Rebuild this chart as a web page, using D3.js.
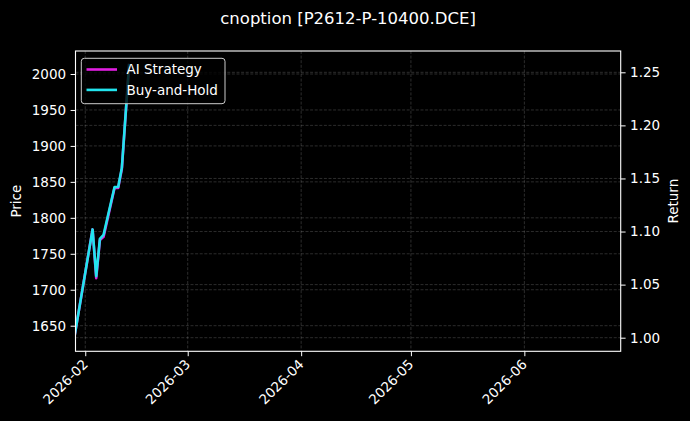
<!DOCTYPE html>
<html>
<head>
<meta charset="utf-8">
<script src="https://cdn.jsdelivr.net/npm/d3@7"></script>
<style>
  html, body { margin: 0; padding: 0; background: #000; }
  svg { display: block; font-family: "DejaVu Sans", sans-serif; }
</style>
</head>
<body>
<svg id="chart" width="690" height="421"></svg>
<script>
// values
const dates = ["2026-01-29", "2026-02-03", "2026-02-04", "2026-02-05", "2026-02-06",
               "2026-02-09", "2026-02-10", "2026-02-11", "2026-02-13"];
const aiStrategy = [1.000, 1.102, 1.056, 1.092, 1.095, 1.141, 1.141, 1.159, 1.258];
const buyHold    = [1.000, 1.102, 1.058, 1.093, 1.097, 1.142, 1.142, 1.160, 1.258];
const priceTicks = [1650, 1700, 1750, 1800, 1850, 1900, 1950, 2000];
const returnTicks = [1.00, 1.05, 1.10, 1.15, 1.20, 1.25];
const monthTicks = ["2026-02-01", "2026-03-01", "2026-04-01", "2026-05-01", "2026-06-01"];

const title = "cnoption [P2612-P-10400.DCE]";

function drawChart() {
  const svg = d3.select("#chart");
  const left = 75.5, right = 620.7, top = 51, bottom = 351.3;
  const parse = d3.utcParse("%Y-%m-%d");

  const x = d3.scaleUtc()
    .domain([new Date(Date.UTC(2026, 0, 29, 8)), new Date(Date.UTC(2026, 5, 27, 8))])
    .range([left, right]);
  const yPrice = d3.scaleLinear().domain([1650, 2000]).range([325.7, 74]);
  const yRet = d3.scaleLinear().domain([1.0, 1.25]).range([337.7, 72.3]);

  svg.append("rect").attr("width", 690).attr("height", 421).attr("fill", "#000");

  svg.append("defs").append("clipPath").attr("id", "plot-clip")
    .append("rect").attr("x", left).attr("y", top)
    .attr("width", right - left).attr("height", bottom - top);

  // grid
  const grid = svg.append("g")
    .attr("stroke", "#fff").attr("stroke-opacity", 0.22)
    .attr("stroke-width", 0.8).attr("stroke-dasharray", "3,1.6");
  monthTicks.forEach(function (d) {
    const xx = x(parse(d));
    grid.append("line").attr("x1", xx).attr("x2", xx).attr("y1", top).attr("y2", bottom);
  });
  priceTicks.forEach(function (v) {
    grid.append("line").attr("x1", left).attr("x2", right)
      .attr("y1", yPrice(v)).attr("y2", yPrice(v));
  });
  returnTicks.forEach(function (v) {
    grid.append("line").attr("x1", left).attr("x2", right)
      .attr("y1", yRet(v)).attr("y2", yRet(v));
  });

  // lines
  const line = d3.line()
    .x(function (d) { return x(d.date); })
    .y(function (d) { return yRet(d.value); });
  const series = [
    { name: "AI Strategy", color: "#e21ee2", values: aiStrategy },
    { name: "Buy-and-Hold", color: "#22e4ee", values: buyHold }
  ];
  const plot = svg.append("g").attr("clip-path", "url(#plot-clip)");
  series.forEach(function (s) {
    const pts = dates.map(function (d, i) { return { date: parse(d), value: s.values[i] }; });
    plot.append("path")
      .datum(pts)
      .attr("d", line)
      .attr("fill", "none")
      .attr("stroke", s.color)
      .attr("stroke-width", 2.6)
      .attr("stroke-linejoin", "round");
  });

  // axes
  const xAxis = svg.append("g")
    .attr("transform", "translate(0," + bottom + ")")
    .call(d3.axisBottom(x).tickValues(monthTicks.map(parse))
      .tickFormat(d3.utcFormat("%Y-%m")).tickSize(4.9).tickPadding(4));
  xAxis.selectAll("text")
    .attr("text-anchor", "end")
    .attr("transform", "translate(-10,1) rotate(-45)")
    .attr("dy", "0.7em");

  svg.append("g")
    .attr("transform", "translate(" + left + ",0)")
    .call(d3.axisLeft(yPrice).tickValues(priceTicks)
      .tickFormat(d3.format("d")).tickSize(4.9).tickPadding(4.5));

  svg.append("g")
    .attr("transform", "translate(" + right + ",0)")
    .call(d3.axisRight(yRet).tickValues(returnTicks)
      .tickFormat(d3.format(".2f")).tickSize(4.9).tickPadding(4.5));

  svg.selectAll(".domain").remove();
  svg.selectAll(".tick line").attr("stroke", "#fff").attr("stroke-width", 1);
  svg.selectAll(".tick text").attr("fill", "#fff").style("font-size", "13.5px")
    .style("font-family", "DejaVu Sans, sans-serif");

  // frame
  svg.append("rect")
    .attr("x", left).attr("y", top)
    .attr("width", right - left).attr("height", bottom - top)
    .attr("fill", "none").attr("stroke", "#fff").attr("stroke-width", 1.1);

  // axis labels and title
  svg.append("text")
    .attr("transform", "translate(21," + (top + bottom) / 2 + ") rotate(-90)")
    .attr("text-anchor", "middle").attr("fill", "#fff")
    .style("font-size", "13.5px").text("Price");
  svg.append("text")
    .attr("transform", "translate(678," + (top + bottom) / 2 + ") rotate(-90)")
    .attr("text-anchor", "middle").attr("fill", "#fff")
    .style("font-size", "13.5px").text("Return");
  svg.append("text")
    .attr("x", (left + right) / 2).attr("y", 24)
    .attr("text-anchor", "middle").attr("fill", "#fff")
    .style("font-size", "16.5px").text(title);

  // legend
  const lg = svg.append("g");
  lg.append("rect")
    .attr("x", 81.3).attr("y", 58.3).attr("width", 143.7).attr("height", 45.4)
    .attr("rx", 3).attr("fill", "#000").attr("fill-opacity", 0.8)
    .attr("stroke", "#ccc").attr("stroke-width", 1);
  series.forEach(function (s, i) {
    const yy = 69.5 + i * 20.4;
    lg.append("line").attr("x1", 86.5).attr("x2", 117).attr("y1", yy).attr("y2", yy)
      .attr("stroke", s.color).attr("stroke-width", 2.6);
    lg.append("text").attr("x", 126.5).attr("y", yy).attr("dy", "0.35em")
      .attr("fill", "#fff").style("font-size", "13.5px").text(s.name);
  });
}

drawChart();
</script>
</body>
</html>
